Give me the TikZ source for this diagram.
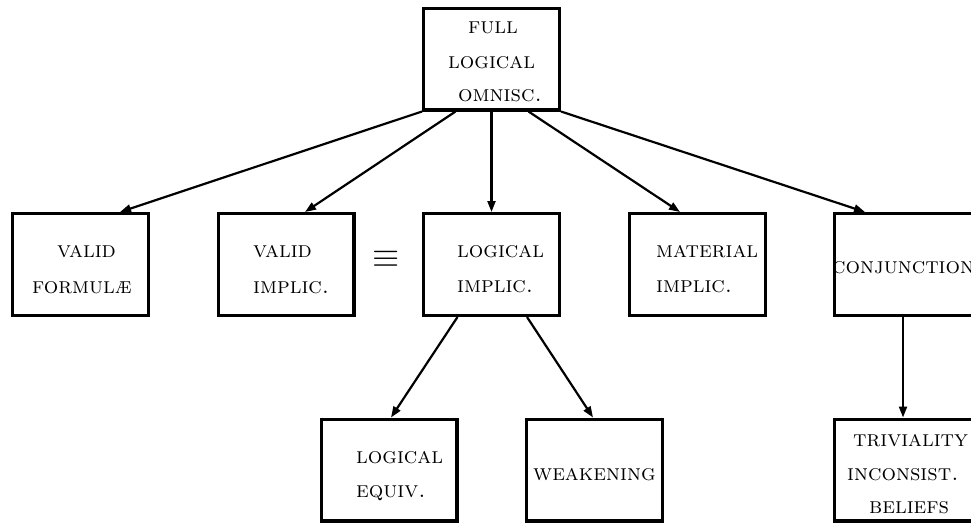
\RequirePackage{fix-cm}
\documentclass[tikz,border=0pt]{standalone}
\usetikzlibrary{arrows.meta}
\begin{document}
\begin{tikzpicture}[x=1pt,y=-1pt,
  box/.style={draw,line width=3.4pt,minimum width=135.6pt,minimum height=101.6pt,inner sep=0pt},
  lbl/.style={anchor=base west,inner sep=0pt,font=\fontsize{22.8}{24}\selectfont\scshape},
  arr/.style={line width=2.2pt,-{Triangle[length=11pt,width=8pt]}}]
\useasboundingbox (0,0) rectangle (971,523);

% boxes
\node[box] (top) at (491.5,59) {};
\node[box] (vf) at (80.5,264.5) {};
\node[box] (vi) at (286,264.5) {};
\node[box] (li) at (491.5,264.5) {};
\node[box] (mi) at (697.5,264.5) {};
\node[box,minimum width=139pt] (cj) at (904,264.5) {};
\node[box] (le) at (389,470) {};
\node[box] (wk) at (594.5,470) {};
\node[box,minimum width=139pt] (tr) at (904,470) {};

% labels
\node[lbl] (t1) at (468,33) {full};
\node[lbl] (t2) at (448,68) {logical};
\node[lbl] (t3) at (458,101) {omnisc.};
\node[lbl] (vf1) at (57,257) {valid};
\node[lbl] (vf2) at (32,293) {formul\ae};
\node[lbl] (vi1) at (253,257) {valid};
\node[lbl] (vi2) at (253,293) {implic.};
\node[lbl] (li1) at (457,257) {logical};
\node[lbl] (li2) at (457,292) {implic.};
\node[lbl] (mi1) at (656,257) {material};
\node[lbl] (mi2) at (656,292) {implic.};
\node[lbl] (cj1) at (832,273) {conjunction};
\node[lbl] (le1) at (356,463) {logical};
\node[lbl] (le2) at (356,497) {equiv.};
\node[lbl] (wk1) at (533,480) {weakening};
\node[lbl] (tr1) at (853,446) {triviality};
\node[lbl] (tr2) at (847,480) {inconsist.};
\node[lbl] (tr3) at (869,513) {beliefs};

\node[inner sep=0pt,font=\fontsize{35}{35}\selectfont] (eq) at (386.5,259) {$\equiv$};

% connectors
\draw[arr] (top.south west) -- ([xshift=39.5pt]vf.north);
\draw[arr] ([xshift=-36pt]top.south) -- ([xshift=19pt]vi.north);
\draw[arr] (top.south) -- (li.north);
\draw[arr] ([xshift=37pt]top.south) -- ([xshift=-17.5pt]mi.north);
\draw[arr] (top.south east) -- ([xshift=-39pt]cj.north);
\draw[arr] ([xshift=-34pt]li.south) -- ([xshift=2pt]le.north);
\draw[arr] ([xshift=35.5pt]li.south) -- ([xshift=-1.5pt]wk.north);
\draw[arr] ([xshift=-1pt]cj.south) -- ([xshift=-1pt]tr.north);
\end{tikzpicture}
\end{document}
